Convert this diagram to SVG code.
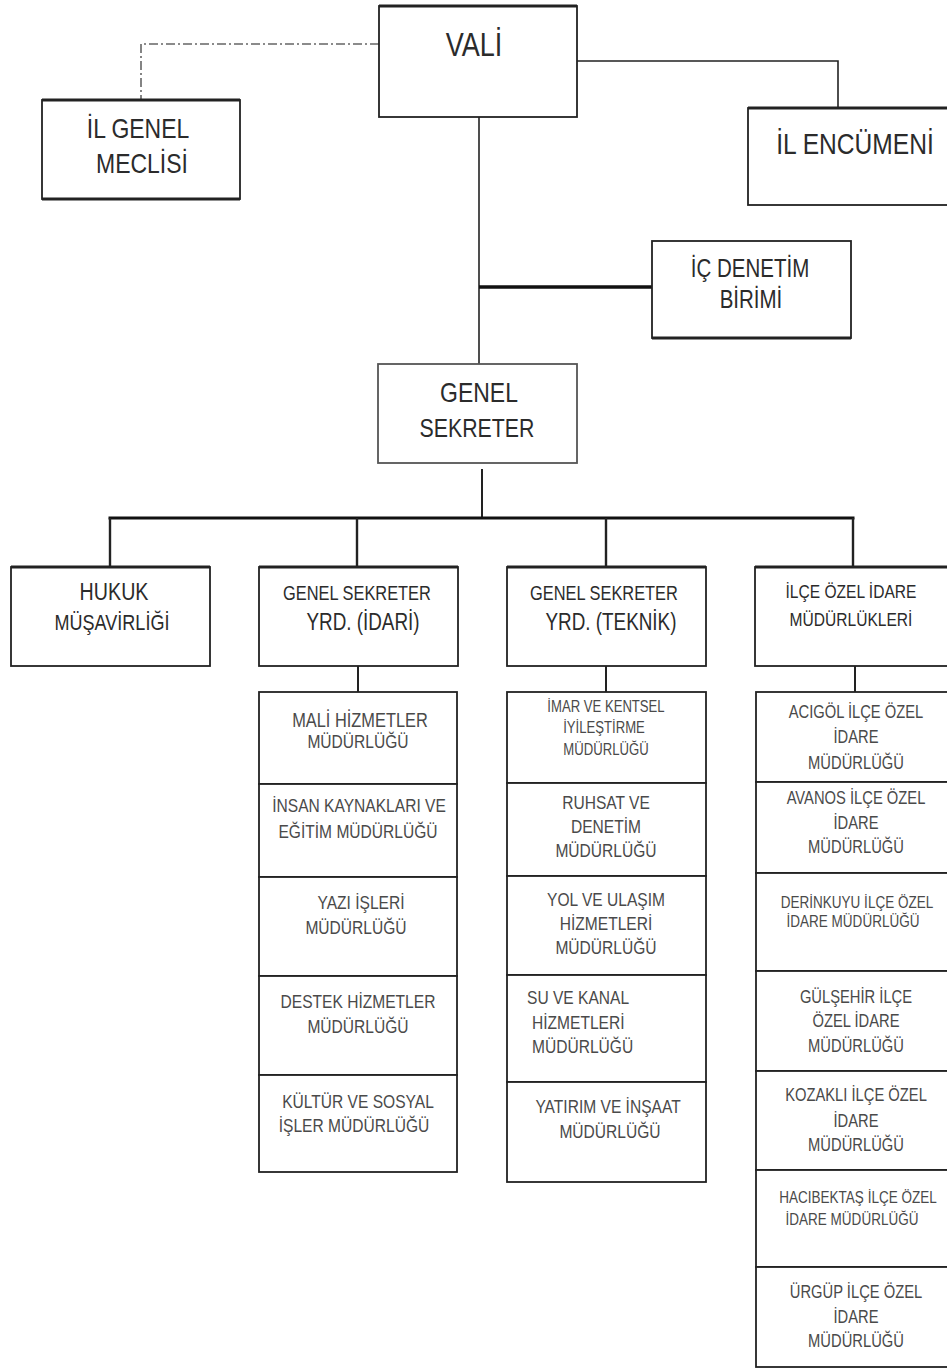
<svg xmlns="http://www.w3.org/2000/svg" width="947" height="1369" viewBox="0 0 947 1369">
<style>
.box{fill:#fff;stroke:#222;stroke-width:1.8}
.edge{stroke:#222;stroke-width:3;fill:none}
.t,.s{font-family:"Liberation Sans",Arial,sans-serif;text-anchor:middle;transform-box:fill-box;transform-origin:center;transform:scaleX(0.82)}
.t{fill:#2b2b2b}
.s{fill:#4a4a4a}
.l{text-anchor:start;transform-origin:left center}
.thin{stroke:#222;stroke-width:1.6;fill:none}
.thick{stroke:#111;stroke-width:3;fill:none}
.dd{stroke:#666;stroke-width:1.6;fill:none;stroke-dasharray:9 3 2 3}
</style>
<rect width="947" height="1369" fill="#fff"/>
<g id="connectors">
<polyline class="dd" points="379,44 141,44 141,100"/>
<polyline class="thin" points="577,61 838,61 838,108"/>
<line class="thin" x1="479" y1="117" x2="479" y2="364"/>
<line class="thick" x1="479" y1="287" x2="652" y2="287" style="stroke-width:3.5"/>
<line class="thin" x1="482" y1="469" x2="482" y2="518" style="stroke-width:2"/>
<line class="thick" x1="108.5" y1="518" x2="854.5" y2="518"/>
<line class="thin" x1="110" y1="518" x2="110" y2="567" style="stroke-width:2.4"/>
<line class="thin" x1="357" y1="518" x2="357" y2="567" style="stroke-width:2.4"/>
<line class="thin" x1="606" y1="518" x2="606" y2="567" style="stroke-width:2.4"/>
<line class="thin" x1="853" y1="518" x2="853" y2="567" style="stroke-width:2.4"/>
<line class="thin" x1="358" y1="666" x2="358" y2="692" style="stroke-width:2"/>
<line class="thin" x1="606" y1="666" x2="606" y2="692" style="stroke-width:2"/>
<line class="thin" x1="855" y1="666" x2="855" y2="692" style="stroke-width:2"/>
</g>
<g id="vali">
<rect class="box" x="379" y="6" width="198" height="111"/>
<line class="edge" x1="379" y1="6" x2="577" y2="6"/>
<text class="t" x="474" y="56" font-size="33">VALİ</text>
</g>
<g id="il-genel-meclisi">
<rect class="box" x="42" y="100" width="198" height="99"/>
<line class="edge" x1="42" y1="100" x2="240" y2="100"/>
<line class="edge" x1="42" y1="199" x2="240" y2="199"/>
<text class="t" x="138" y="138" font-size="28">İL GENEL</text>
<text class="t" x="142" y="173" font-size="28">MECLİSİ</text>
</g>
<g id="il-encumeni">
<rect class="box" x="748" y="108" width="201" height="97"/>
<line class="edge" x1="748" y1="108" x2="947" y2="108"/>
<text class="t" x="855" y="154" font-size="30">İL ENCÜMENİ</text>
</g>
<g id="ic-denetim">
<rect class="box" x="652" y="241" width="199" height="97"/>
<line class="edge" x1="652" y1="338" x2="851" y2="338"/>
<text class="t" x="750" y="277" font-size="25">İÇ DENETİM</text>
<text class="t" x="751" y="308" font-size="25">BİRİMİ</text>
</g>
<g id="genel-sekreter">
<rect class="box" x="378" y="364" width="199" height="99" style="stroke:#555"/>
<text class="t" x="479" y="402" font-size="28">GENEL</text>
<text class="t" x="477" y="437" font-size="26">SEKRETER</text>
</g>
<g id="hukuk">
<rect class="box" x="11" y="567" width="199" height="99"/>
<line class="edge" x1="11" y1="567" x2="210" y2="567"/>
<text class="t" x="114" y="600" font-size="24">HUKUK</text>
<text class="t" x="112" y="630" font-size="22">MÜŞAVİRLİĞİ</text>
</g>
<g id="gs-yrd-idari">
<rect class="box" x="259" y="567" width="199" height="99"/>
<line class="edge" x1="259" y1="567" x2="458" y2="567"/>
<text class="t" x="357" y="600" font-size="20">GENEL SEKRETER</text>
<text class="t" x="363" y="630" font-size="23">YRD. (İDARİ)</text>
</g>
<g id="gs-yrd-teknik">
<rect class="box" x="507" y="567" width="199" height="99"/>
<line class="edge" x1="507" y1="567" x2="706" y2="567"/>
<text class="t" x="604" y="600" font-size="20">GENEL SEKRETER</text>
<text class="t" x="611" y="630" font-size="23">YRD. (TEKNİK)</text>
</g>
<g id="ilce-ozel-idare">
<rect class="box" x="755" y="567" width="194" height="99"/>
<line class="edge" x1="755" y1="567" x2="947" y2="567"/>
<text class="t" x="851" y="598" font-size="19">İLÇE ÖZEL İDARE</text>
<text class="t" x="851" y="626" font-size="19">MÜDÜRLÜKLERİ</text>
</g>
<g id="idari-stack">
<rect class="box" x="259" y="692" width="198" height="92"/>
<text class="s" x="360" y="727" font-size="20">MALİ HİZMETLER</text>
<text class="s" x="358" y="748" font-size="19">MÜDÜRLÜĞÜ</text>
<rect class="box" x="259" y="784" width="198" height="93"/>
<text class="s" x="359" y="812" font-size="19">İNSAN KAYNAKLARI VE</text>
<text class="s" x="358" y="838" font-size="19">EĞİTİM MÜDÜRLÜĞÜ</text>
<rect class="box" x="259" y="877" width="198" height="99"/>
<text class="s" x="361" y="909" font-size="19">YAZI İŞLERİ</text>
<text class="s" x="356" y="934" font-size="19">MÜDÜRLÜĞÜ</text>
<rect class="box" x="259" y="976" width="198" height="99"/>
<text class="s" x="358" y="1008" font-size="19">DESTEK HİZMETLER</text>
<text class="s" x="358" y="1033" font-size="19">MÜDÜRLÜĞÜ</text>
<rect class="box" x="259" y="1075" width="198" height="97"/>
<text class="s" x="358" y="1108" font-size="19">KÜLTÜR VE SOSYAL</text>
<text class="s" x="354" y="1132" font-size="19">İŞLER MÜDÜRLÜĞÜ</text>
</g>
<g id="teknik-stack">
<rect class="box" x="507" y="692" width="199" height="91"/>
<text class="s" x="606" y="712" font-size="16">İMAR VE KENTSEL</text>
<text class="s" x="604" y="733" font-size="16">İYİLEŞTİRME</text>
<text class="s" x="606" y="755" font-size="16">MÜDÜRLÜĞÜ</text>
<rect class="box" x="507" y="783" width="199" height="93"/>
<text class="s" x="606" y="809" font-size="19">RUHSAT VE</text>
<text class="s" x="606" y="833" font-size="19">DENETİM</text>
<text class="s" x="606" y="857" font-size="19">MÜDÜRLÜĞÜ</text>
<rect class="box" x="507" y="876" width="199" height="99"/>
<text class="s" x="606" y="906" font-size="19">YOL VE ULAŞIM</text>
<text class="s" x="606" y="930" font-size="19">HİZMETLERİ</text>
<text class="s" x="606" y="954" font-size="19">MÜDÜRLÜĞÜ</text>
<rect class="box" x="507" y="975" width="199" height="107"/>
<text class="s l" x="527" y="1004" font-size="19">SU VE KANAL</text>
<text class="s l" x="532" y="1029" font-size="19">HİZMETLERİ</text>
<text class="s l" x="532" y="1053" font-size="19">MÜDÜRLÜĞÜ</text>
<rect class="box" x="507" y="1082" width="199" height="100"/>
<text class="s" x="608" y="1113" font-size="19">YATIRIM VE İNŞAAT</text>
<text class="s" x="610" y="1138" font-size="19">MÜDÜRLÜĞÜ</text>
</g>
<g id="ilce-stack">
<rect class="box" x="756" y="692" width="193" height="90"/>
<text class="s" x="856" y="718" font-size="18">ACIGÖL İLÇE ÖZEL</text>
<text class="s" x="856" y="743" font-size="18">İDARE</text>
<text class="s" x="856" y="769" font-size="18">MÜDÜRLÜĞÜ</text>
<rect class="box" x="756" y="782" width="193" height="91"/>
<text class="s" x="856" y="804" font-size="18">AVANOS İLÇE ÖZEL</text>
<text class="s" x="856" y="829" font-size="18">İDARE</text>
<text class="s" x="856" y="853" font-size="18">MÜDÜRLÜĞÜ</text>
<rect class="box" x="756" y="873" width="193" height="98"/>
<text class="s" x="857" y="908" font-size="16.5">DERİNKUYU İLÇE ÖZEL</text>
<text class="s" x="853" y="927" font-size="16.5">İDARE MÜDÜRLÜĞÜ</text>
<rect class="box" x="756" y="971" width="193" height="100"/>
<text class="s" x="856" y="1003" font-size="18">GÜLŞEHİR İLÇE</text>
<text class="s" x="856" y="1027" font-size="18">ÖZEL İDARE</text>
<text class="s" x="856" y="1052" font-size="18">MÜDÜRLÜĞÜ</text>
<rect class="box" x="756" y="1071" width="193" height="99"/>
<text class="s" x="856" y="1101" font-size="18">KOZAKLI İLÇE ÖZEL</text>
<text class="s" x="856" y="1127" font-size="18">İDARE</text>
<text class="s" x="856" y="1151" font-size="18">MÜDÜRLÜĞÜ</text>
<rect class="box" x="756" y="1170" width="193" height="97"/>
<text class="s" x="858" y="1203" font-size="16.5">HACIBEKTAŞ İLÇE ÖZEL</text>
<text class="s" x="852" y="1225" font-size="16.5">İDARE MÜDÜRLÜĞÜ</text>
<rect class="box" x="756" y="1267" width="193" height="100"/>
<text class="s" x="856" y="1298" font-size="18">ÜRGÜP İLÇE ÖZEL</text>
<text class="s" x="856" y="1323" font-size="18">İDARE</text>
<text class="s" x="856" y="1347" font-size="18">MÜDÜRLÜĞÜ</text>
</g>
</svg>
